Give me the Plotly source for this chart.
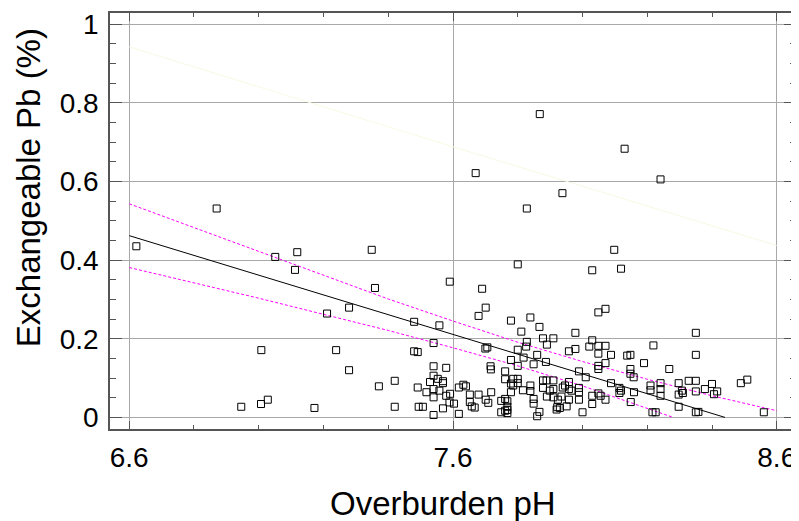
import plotly.graph_objects as go

# Scatter data: Overburden pH vs Exchangeable Pb (%)
ph = [6.622, 6.870, 6.946, 7.007, 7.008, 7.028, 7.051, 7.112, 7.119, 7.172,
      7.211, 7.239, 7.279, 7.279, 7.349, 7.359, 7.371, 7.420, 7.420, 7.480,
      7.480, 7.491, 7.491, 7.494, 7.507, 7.518, 7.529, 7.540, 7.540, 7.540,
      7.540, 7.540, 7.540, 7.553, 7.558, 7.558, 7.569, 7.569, 7.569, 7.579,
      7.579, 7.589, 7.590, 7.591, 7.603, 7.618, 7.618, 7.632, 7.640, 7.652,
      7.652, 7.658, 7.667, 7.670, 7.679, 7.679, 7.690, 7.701, 7.701, 7.700,
      7.706, 7.709, 7.718, 7.716, 7.717,
      7.800, 8.030, 8.119, 8.098, 8.049, 8.071, 7.779, 7.839, 7.811, 7.867,
      7.978, 8.350, 7.878, 7.910, 7.828, 7.890, 8.030, 8.021, 8.049, 8.071,
      8.219, 7.826, 7.800, 7.978, 7.958, 8.049, 8.088, 8.138, 8.148, 8.350,
      7.860, 7.818, 7.779, 7.887, 7.849, 7.800, 8.071, 8.049, 8.049, 8.190,
      7.761, 7.989, 8.010, 8.148, 8.148, 8.158, 8.268, 7.761, 7.786, 7.800,
      7.779, 7.800, 7.786, 7.878, 7.889, 7.910, 7.958, 7.878, 7.839, 7.816,
      7.839, 7.779, 7.899, 7.910, 7.939, 7.946, 7.958, 7.966, 7.989, 7.989,
      8.088, 8.114, 8.119, 8.114, 8.159, 8.210, 8.210, 8.241, 8.241, 8.241,
      8.297, 8.307, 8.297, 8.310, 8.328, 8.350, 8.350, 8.378, 8.400, 8.406,
      8.416, 8.489, 8.509, 8.560, 8.350, 8.358, 8.216, 8.226, 8.297, 8.149,
      8.071, 8.030, 8.030, 8.049, 8.056, 7.989, 8.000, 7.958, 7.935, 7.924,
      7.910, 7.890, 7.922, 7.930, 7.920, 7.951, 7.867, 7.860, 7.849, 7.849,
      7.761, 7.768, 7.749, 7.768, 7.768, 7.761, 7.768, 7.749,
      7.868, 8.130, 8.241, 7.938, 7.828]
pb = [0.435, 0.531, 0.027, 0.034, 0.171, 0.045, 0.408, 0.375, 0.420, 0.024,
      0.264, 0.171, 0.279, 0.120, 0.426, 0.329, 0.079, 0.093, 0.027, 0.243,
      0.168, 0.166, 0.076, 0.027, 0.027, 0.064, 0.090, 0.189, 0.130, 0.106,
      0.072, 0.051, 0.006, 0.098, 0.234, 0.068, 0.092, 0.087, 0.023, 0.126,
      0.055, 0.038, 0.345, 0.060, 0.035, 0.076, 0.009, 0.083, 0.079, 0.058,
      0.039, 0.028, 0.025, 0.621, 0.058, 0.258, 0.327, 0.279, 0.045, 0.175,
      0.178, 0.037, 0.064, 0.130, 0.122,
      0.389, 0.374, 0.378, 0.426, 0.267, 0.276, 0.246, 0.254, 0.218, 0.230,
      0.215, 0.215, 0.201, 0.201, 0.192, 0.185, 0.196, 0.180, 0.182, 0.182,
      0.183, 0.180, 0.172, 0.174, 0.168, 0.162, 0.159, 0.157, 0.159, 0.159,
      0.159, 0.152, 0.146, 0.141, 0.135, 0.131, 0.138, 0.131, 0.123, 0.138,
      0.117, 0.117, 0.102, 0.123, 0.111, 0.102, 0.123, 0.097, 0.098, 0.098,
      0.086, 0.087, 0.081, 0.094, 0.094, 0.094, 0.090, 0.075, 0.081, 0.069,
      0.067, 0.064, 0.068, 0.072, 0.076, 0.081, 0.072, 0.068, 0.075, 0.064,
      0.087, 0.075, 0.068, 0.062, 0.064, 0.081, 0.069, 0.087, 0.072, 0.055,
      0.087, 0.068, 0.058, 0.062, 0.093, 0.093, 0.066, 0.072, 0.085, 0.059,
      0.066, 0.087, 0.096, 0.013, 0.013, 0.014, 0.013, 0.013, 0.027, 0.039,
      0.045, 0.055, 0.034, 0.061, 0.055, 0.045, 0.013, 0.045, 0.053, 0.045,
      0.051, 0.053, 0.026, 0.024, 0.020, 0.028, 0.014, 0.003, 0.047, 0.035,
      0.047, 0.041, 0.042, 0.027, 0.019, 0.017, 0.011, 0.013,
      0.771, 0.683, 0.605, 0.570, 0.531]

# Regression line and confidence bands
fit_x = [6.6, 8.44]
fit_y = [0.462, 0.0]
upper_x = [6.6, 6.8, 7.0, 7.2, 7.4, 7.6, 7.8, 8.0, 8.2, 8.4, 8.6]
upper_y = [0.543, 0.482, 0.421, 0.360, 0.301, 0.245, 0.191, 0.142, 0.097, 0.055, 0.017]
lower_x = [6.6, 6.8, 7.0, 7.2, 7.4, 7.6, 7.8, 8.0, 8.2, 8.28]
lower_y = [0.381, 0.342, 0.303, 0.262, 0.221, 0.177, 0.131, 0.080, 0.023, 0.0]
pred_x = [6.6, 7.6, 8.6]
pred_y = [0.942, 0.688, 0.437]

x_ticks = [6.6, 7.6, 8.6]
x_ticktext = ["6.6", "7.6", "8.6"]
y_ticks = [0, 0.2, 0.4, 0.6, 0.8, 1.0]
y_ticktext = ["0", "0.2", "0.4", "0.6", "0.8", "1"]

FONT = "Liberation Sans, Arial, Helvetica, sans-serif"

fig = go.Figure()
fig.add_trace(go.Scatter(x=pred_x, y=pred_y, mode="lines",
                         line=dict(color="#f9f9e4", width=1), hoverinfo="skip"))
fig.add_trace(go.Scatter(x=upper_x, y=upper_y, mode="lines",
                         line=dict(color="#ff00ff", width=1, dash="3px,2px")))
fig.add_trace(go.Scatter(x=lower_x, y=lower_y, mode="lines",
                         line=dict(color="#ff00ff", width=1, dash="3px,2px")))
fig.add_trace(go.Scatter(x=fit_x, y=fit_y, mode="lines",
                         line=dict(color="black", width=1)))
fig.add_trace(go.Scatter(x=ph, y=pb, mode="markers",
                         marker=dict(symbol="square-open", size=7, color="black",
                                     line=dict(color="black", width=1))))

axis_common = dict(
    showline=True, linecolor="#555555", linewidth=1.5, mirror="allticks",
    ticks="inside", tickcolor="#555555", tickwidth=1,
    showgrid=True, gridcolor="#a8a8a8", gridwidth=1, zeroline=False,
    tickfont=dict(family=FONT, size=28, color="black"),
)

fig.update_xaxes(range=[6.5406, 8.6594], tickmode="array", tickvals=x_ticks,
                 ticktext=x_ticktext, ticklen=8, ticklabelstandoff=3,
                 minor=dict(dtick=0.2, tick0=6.6, ticklen=4, ticks="inside",
                            tickcolor="#555555", showgrid=False),
                 **axis_common)
fig.update_yaxes(range=[-0.0295, 1.028], tickmode="array", tickvals=y_ticks,
                 ticktext=y_ticktext, ticklen=12, ticklabelstandoff=4,
                 minor=dict(dtick=0.05, tick0=0, ticklen=6, ticks="inside",
                            tickcolor="#555555", showgrid=False),
                 **axis_common)

# page body has an 8px default margin, so positions are shifted by -8px
fig.add_annotation(text="Overburden pH", xref="paper", yref="paper",
                   x=(444 - 110) / 688, y=-(503 - 429) / 416,
                   xanchor="center", yanchor="middle", showarrow=False,
                   font=dict(family=FONT, size=33, color="black"))
fig.add_annotation(text="Exchangeable Pb (%)", xref="paper", yref="paper",
                   x=(29 - 110) / 688, y=(429 - 188) / 416, textangle=-90,
                   xanchor="center", yanchor="middle", showarrow=False,
                   font=dict(family=FONT, size=33, color="black"))

fig.update_layout(width=791, height=513, showlegend=False,
                  margin=dict(l=102, r=1, t=5, b=92),
                  paper_bgcolor="white", plot_bgcolor="white")

fig.write_html("out.html")
